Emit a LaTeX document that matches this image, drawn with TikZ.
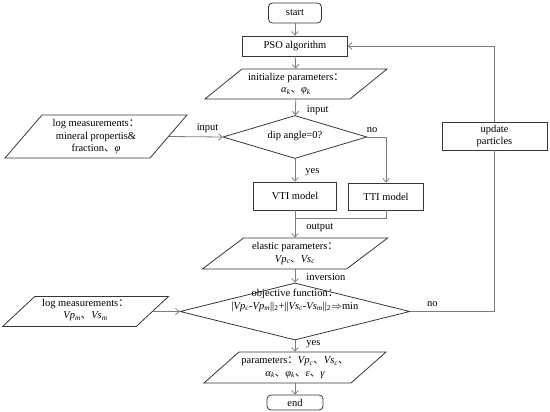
\documentclass[tikz,border=0pt]{standalone}
\usepackage{fontspec}
\setmainfont{Liberation Serif}
\newfontfamily\cjk{Noto Sans CJK SC}
\usepackage{xcolor}
\definecolor{lnGray}{RGB}{125,125,125}
\definecolor{boxGray}{RGB}{55,55,55}
\usetikzlibrary{arrows.meta, shapes.geometric}

\newcommand{\dun}{{\cjk 、}}
\newcommand{\mao}{{\cjk ：}}
\newcommand{\vsub}[2]{\textit{#1}\textsubscript{\textit{#2}}}

\tikzset{
  startstop/.style={draw=boxGray, rounded corners=4pt, inner sep=0pt, line width=0.8pt},
  process/.style={draw=boxGray, rectangle, inner sep=0pt, line width=0.8pt, align=center},
  io/.style={draw=boxGray, trapezium, inner sep=0pt, line width=0.8pt},
  decision/.style={draw=boxGray, diamond, inner sep=0pt, line width=0.8pt},
  line/.style={draw=lnGray, line width=0.8pt},
  arr/.style={line, -{Straight Barb[length=3.5pt, width=6.5pt]}},
  lbl/.style={inner sep=1pt, text=black}
}

\begin{document}
\begin{tikzpicture}[x=1pt, y=-1pt, font=\fontsize{10.5}{12.5}\selectfont]
  \useasboundingbox (0,0) rectangle (550,412);

  % main column
  \node[startstop, minimum width=53, minimum height=20] (start) at (295,13) {start};
  \node[process, minimum width=105, minimum height=20] (pso) at (295,46) {PSO algorithm};
  \node[io, trapezium left angle=39, trapezium right angle=141, inner xsep=54, inner ysep=15,
        label={[align=center]center:initialize parameters\mao\\\vsub{α}{k}\dun\vsub{φ}{k}}] (init) at (296,84) {};
  \node[decision, minimum width=144, minimum height=43,
        label={[yshift=1.5]center:dip angle=0?}] (dip) at (295,137) {};
  \node[process, minimum width=83, minimum height=28] (vti) at (295,196) {VTI model};
  \node[process, minimum width=75, minimum height=27] (tti) at (386,196.5) {TTI model};
  \node[io, trapezium left angle=37, trapezium right angle=143, inner xsep=51.5, inner ysep=15.5,
        label={[align=center]center:elastic parameters\mao\\\vsub{Vp}{c}\dun\vsub{Vs}{c}}] (elastic) at (295,253.5) {};
  \node[decision, minimum width=230, minimum height=57,
        label={[align=center, yshift=11]center:objective function\mao\\|\vsub{Vp}{c}-\vsub{Vp}{m}||\textsubscript{2}+||\vsub{Vs}{c}-\vsub{Vs}{m}||\textsubscript{2}$\Rightarrow$min}] (obj) at (295,311.5) {};
  \node[io, trapezium left angle=41.5, trapezium right angle=138.5, inner xsep=56, inner ysep=15.5,
        label={[align=center]center:parameters\mao\vsub{Vp}{c}\dun\vsub{Vs}{c}\dun\\\vsub{α}{k}\dun\vsub{φ}{k}\dun\textit{ε}\dun\textit{γ}}] (params) at (295,367.5) {};
  \node[startstop, minimum width=56, minimum height=15] (end) at (295,402.5) {end};

  % side inputs and update loop
  \node[io, trapezium left angle=49.3, trapezium right angle=130.7, inner xsep=54, inner ysep=21.5,
        label={[align=center]center:log measurements\mao\\mineral propertis\&\\fraction\dun\textit{φ}}] (log1) at (96,136.5) {};
  \node[io, trapezium left angle=43, trapezium right angle=137, inner xsep=50.75, inner ysep=15,
        label={[align=center, yshift=1.5]center:log measurements\mao\\\vsub{Vp}{m}\dun\vsub{Vs}{m}}] (log2) at (85.5,311.5) {};
  \node[process, minimum width=105, minimum height=28] (upd) at (494.5,136) {update\\particles};
  \coordinate (join) at (295,218);

  % connectors
  \draw[arr] (start) -- (pso);
  \draw[arr] (pso) -- (init);
  \draw[arr] (init) -- node[lbl, right=10, pos=0.7] (lin1) {input} (dip);
  \draw[arr] (log1.east) -- node[lbl, above=3, pos=0.72] (lin2) {input} (dip.west);
  \draw[arr] (dip.east) -| node[lbl, above=3, pos=0.13] (lno1) {no} (tti.north);
  \draw[arr] (dip.south) -- node[lbl, right=9, pos=0.57] (lyes1) {yes} (vti.north);
  \draw[line] (tti.south) |- (join);
  \draw[arr] (vti.south) -- node[lbl, right=10, pos=0.64] (lout) {output} (elastic.north);
  \draw[arr] (elastic.south) -- node[lbl, right=10, pos=0.6] (linv) {inversion} (obj.north);
  \draw[arr] (log2.east) -- (obj.west);
  \draw[line] (obj.east) -| node[lbl, above=3, pos=0.13] (lno2) {no} (upd.south);
  \draw[arr] (upd.north) |- (pso.east);
  \draw[arr] (obj.south) -- node[lbl, right=10, pos=0.35] (lyes2) {yes} (params.north);
  \draw[arr] (params.south) -- (end.north);
\end{tikzpicture}
\end{document}
